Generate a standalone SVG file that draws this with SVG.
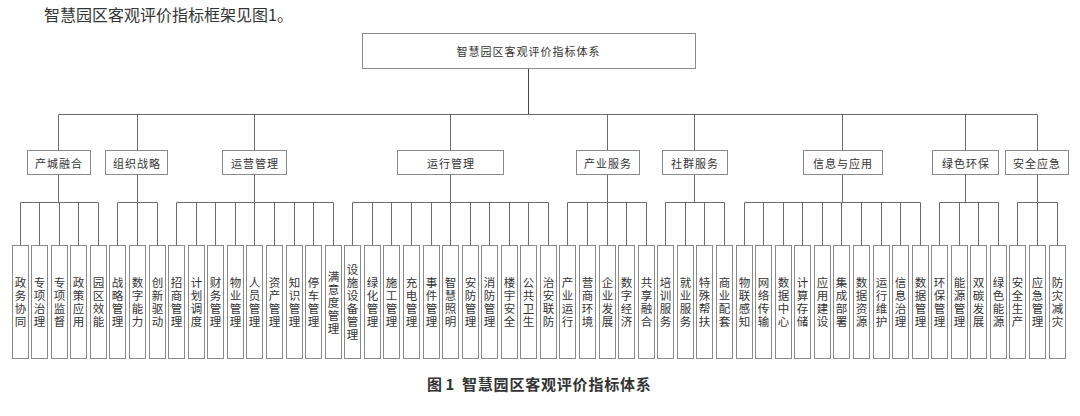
<svg xmlns="http://www.w3.org/2000/svg" width="1080" height="416" viewBox="0 0 1080 416">
<style>
.bx{fill:#fff;stroke:#8a8a8a;stroke-width:1}
.cn line{stroke:#6a6a6a;stroke-width:1}
.t{font-family:"Noto Sans CJK SC","Liberation Sans",sans-serif;fill:#333}
.l1{font-size:11px;text-anchor:middle;dominant-baseline:central;letter-spacing:1px}
.lf{font-size:11.5px;text-anchor:middle;dominant-baseline:central}
</style>
<rect width="1080" height="416" fill="#fff"/>
<text class="t" x="44" y="21" font-size="16" fill="#444">智慧园区客观评价指标框架见图1。</text>

<g id="connectors" class="cn">
<line x1="528.5" y1="68.5" x2="528.5" y2="114.5" style="stroke:#444"/>
<line x1="58.5" y1="114.5" x2="1037.5" y2="114.5"/>
<line x1="58.5" y1="114.5" x2="58.5" y2="150.5"/><line x1="137.5" y1="114.5" x2="137.5" y2="150.5"/><line x1="254.5" y1="114.5" x2="254.5" y2="150.5"/><line x1="450.5" y1="114.5" x2="450.5" y2="150.5"/><line x1="607.5" y1="114.5" x2="607.5" y2="150.5"/><line x1="694.5" y1="114.5" x2="694.5" y2="150.5"/><line x1="842.5" y1="114.5" x2="842.5" y2="150.5"/><line x1="965.5" y1="114.5" x2="965.5" y2="150.5"/><line x1="1037.5" y1="114.5" x2="1037.5" y2="150.5"/>
<line x1="58.5" y1="174.5" x2="58.5" y2="202.5"/><line x1="137.5" y1="174.5" x2="137.5" y2="202.5"/><line x1="254.5" y1="174.5" x2="254.5" y2="202.5"/><line x1="450.5" y1="174.5" x2="450.5" y2="202.5"/><line x1="607.5" y1="174.5" x2="607.5" y2="202.5"/><line x1="694.5" y1="174.5" x2="694.5" y2="202.5"/><line x1="842.5" y1="174.5" x2="842.5" y2="202.5"/><line x1="965.5" y1="174.5" x2="965.5" y2="202.5"/><line x1="1037.5" y1="174.5" x2="1037.5" y2="202.5"/>
<line x1="20.5" y1="202.5" x2="98.5" y2="202.5"/>
<line x1="117.5" y1="202.5" x2="157.5" y2="202.5"/>
<line x1="176.5" y1="202.5" x2="333.5" y2="202.5"/>
<line x1="352.5" y1="202.5" x2="548.5" y2="202.5"/>
<line x1="567.5" y1="202.5" x2="646.5" y2="202.5"/>
<line x1="665.5" y1="202.5" x2="724.5" y2="202.5"/>
<line x1="744.5" y1="202.5" x2="920.5" y2="202.5"/>
<line x1="939.5" y1="202.5" x2="998.5" y2="202.5"/>
<line x1="1017.5" y1="202.5" x2="1057.5" y2="202.5"/>
<line x1="20.5" y1="202.5" x2="20.5" y2="245.5"/><line x1="39.5" y1="202.5" x2="39.5" y2="245.5"/><line x1="59.5" y1="202.5" x2="59.5" y2="245.5"/><line x1="78.5" y1="202.5" x2="78.5" y2="245.5"/><line x1="98.5" y1="202.5" x2="98.5" y2="245.5"/>
<line x1="117.5" y1="202.5" x2="117.5" y2="245.5"/><line x1="137.5" y1="202.5" x2="137.5" y2="245.5"/><line x1="157.5" y1="202.5" x2="157.5" y2="245.5"/>
<line x1="176.5" y1="202.5" x2="176.5" y2="245.5"/><line x1="196.5" y1="202.5" x2="196.5" y2="245.5"/><line x1="215.5" y1="202.5" x2="215.5" y2="245.5"/><line x1="235.5" y1="202.5" x2="235.5" y2="245.5"/><line x1="254.5" y1="202.5" x2="254.5" y2="245.5"/><line x1="274.5" y1="202.5" x2="274.5" y2="245.5"/><line x1="294.5" y1="202.5" x2="294.5" y2="245.5"/><line x1="313.5" y1="202.5" x2="313.5" y2="245.5"/><line x1="333.5" y1="202.5" x2="333.5" y2="245.5"/>
<line x1="352.5" y1="202.5" x2="352.5" y2="245.5"/><line x1="372.5" y1="202.5" x2="372.5" y2="245.5"/><line x1="391.5" y1="202.5" x2="391.5" y2="245.5"/><line x1="411.5" y1="202.5" x2="411.5" y2="245.5"/><line x1="431.5" y1="202.5" x2="431.5" y2="245.5"/><line x1="450.5" y1="202.5" x2="450.5" y2="245.5"/><line x1="470.5" y1="202.5" x2="470.5" y2="245.5"/><line x1="489.5" y1="202.5" x2="489.5" y2="245.5"/><line x1="509.5" y1="202.5" x2="509.5" y2="245.5"/><line x1="528.5" y1="202.5" x2="528.5" y2="245.5"/><line x1="548.5" y1="202.5" x2="548.5" y2="245.5"/>
<line x1="567.5" y1="202.5" x2="567.5" y2="245.5"/><line x1="587.5" y1="202.5" x2="587.5" y2="245.5"/><line x1="607.5" y1="202.5" x2="607.5" y2="245.5"/><line x1="626.5" y1="202.5" x2="626.5" y2="245.5"/><line x1="646.5" y1="202.5" x2="646.5" y2="245.5"/>
<line x1="665.5" y1="202.5" x2="665.5" y2="245.5"/><line x1="685.5" y1="202.5" x2="685.5" y2="245.5"/><line x1="704.5" y1="202.5" x2="704.5" y2="245.5"/><line x1="724.5" y1="202.5" x2="724.5" y2="245.5"/>
<line x1="744.5" y1="202.5" x2="744.5" y2="245.5"/><line x1="763.5" y1="202.5" x2="763.5" y2="245.5"/><line x1="783.5" y1="202.5" x2="783.5" y2="245.5"/><line x1="802.5" y1="202.5" x2="802.5" y2="245.5"/><line x1="822.5" y1="202.5" x2="822.5" y2="245.5"/><line x1="841.5" y1="202.5" x2="841.5" y2="245.5"/><line x1="861.5" y1="202.5" x2="861.5" y2="245.5"/><line x1="881.5" y1="202.5" x2="881.5" y2="245.5"/><line x1="900.5" y1="202.5" x2="900.5" y2="245.5"/><line x1="920.5" y1="202.5" x2="920.5" y2="245.5"/>
<line x1="939.5" y1="202.5" x2="939.5" y2="245.5"/><line x1="959.5" y1="202.5" x2="959.5" y2="245.5"/><line x1="978.5" y1="202.5" x2="978.5" y2="245.5"/><line x1="998.5" y1="202.5" x2="998.5" y2="245.5"/>
<line x1="1017.5" y1="202.5" x2="1017.5" y2="245.5"/><line x1="1037.5" y1="202.5" x2="1037.5" y2="245.5"/><line x1="1057.5" y1="202.5" x2="1057.5" y2="245.5"/>
</g>

<g id="root"><rect class="bx" x="362.5" y="33.5" width="333" height="35"/><text class="t l1" x="528.5" y="51" letter-spacing="0.3">智慧园区客观评价指标体系</text></g>

<g id="g1"><rect class="bx" x="27.5" y="150.5" width="63" height="24"/><text class="t l1" x="59" y="162.5">产城融合</text></g>
<g id="g2"><rect class="bx" x="105.5" y="150.5" width="62" height="24"/><text class="t l1" x="137" y="162.5">组织战略</text></g>
<g id="g3"><rect class="bx" x="222.5" y="150.5" width="64" height="24"/><text class="t l1" x="255" y="162.5">运营管理</text></g>
<g id="g4"><rect class="bx" x="397.5" y="150.5" width="106" height="24"/><text class="t l1" x="451" y="162.5">运行管理</text></g>
<g id="g5"><rect class="bx" x="576.5" y="150.5" width="63" height="24"/><text class="t l1" x="608" y="162.5">产业服务</text></g>
<g id="g6"><rect class="bx" x="662.5" y="150.5" width="65" height="24"/><text class="t l1" x="695" y="162.5">社群服务</text></g>
<g id="g7"><rect class="bx" x="803.5" y="150.5" width="79" height="24"/><text class="t l1" x="843" y="162.5">信息与应用</text></g>
<g id="g8"><rect class="bx" x="932.5" y="150.5" width="66" height="24"/><text class="t l1" x="966" y="162.5">绿色环保</text></g>
<g id="g9"><rect class="bx" x="1005.5" y="150.5" width="63" height="24"/><text class="t l1" x="1037" y="162.5">安全应急</text></g>

<g id="leaves">
<g id="n0"><rect class="bx" x="12.5" y="245.5" width="16" height="113"/><text class="t lf" x="20.5 20.5 20.5 20.5" y="282 295 308 321">政务协同</text></g>
<g id="n1"><rect class="bx" x="31.5" y="245.5" width="16" height="113"/><text class="t lf" x="39.5 39.5 39.5 39.5" y="282 295 308 321">专项治理</text></g>
<g id="n2"><rect class="bx" x="51.5" y="245.5" width="16" height="113"/><text class="t lf" x="59.5 59.5 59.5 59.5" y="282 295 308 321">专项监督</text></g>
<g id="n3"><rect class="bx" x="70.5" y="245.5" width="16" height="113"/><text class="t lf" x="78.5 78.5 78.5 78.5" y="282 295 308 321">政策应用</text></g>
<g id="n4"><rect class="bx" x="90.5" y="245.5" width="16" height="113"/><text class="t lf" x="98.5 98.5 98.5 98.5" y="282 295 308 321">园区效能</text></g>
<g id="n5"><rect class="bx" x="109.5" y="245.5" width="16" height="113"/><text class="t lf" x="117.5 117.5 117.5 117.5" y="282 295 308 321">战略管理</text></g>
<g id="n6"><rect class="bx" x="129.5" y="245.5" width="16" height="113"/><text class="t lf" x="137.5 137.5 137.5 137.5" y="282 295 308 321">数字能力</text></g>
<g id="n7"><rect class="bx" x="149.5" y="245.5" width="16" height="113"/><text class="t lf" x="157.5 157.5 157.5 157.5" y="282 295 308 321">创新驱动</text></g>
<g id="n8"><rect class="bx" x="168.5" y="245.5" width="16" height="113"/><text class="t lf" x="176.5 176.5 176.5 176.5" y="282 295 308 321">招商管理</text></g>
<g id="n9"><rect class="bx" x="188.5" y="245.5" width="16" height="113"/><text class="t lf" x="196.5 196.5 196.5 196.5" y="282 295 308 321">计划调度</text></g>
<g id="n10"><rect class="bx" x="207.5" y="245.5" width="16" height="113"/><text class="t lf" x="215.5 215.5 215.5 215.5" y="282 295 308 321">财务管理</text></g>
<g id="n11"><rect class="bx" x="227.5" y="245.5" width="16" height="113"/><text class="t lf" x="235.5 235.5 235.5 235.5" y="282 295 308 321">物业管理</text></g>
<g id="n12"><rect class="bx" x="246.5" y="245.5" width="16" height="113"/><text class="t lf" x="254.5 254.5 254.5 254.5" y="282 295 308 321">人员管理</text></g>
<g id="n13"><rect class="bx" x="266.5" y="245.5" width="16" height="113"/><text class="t lf" x="274.5 274.5 274.5 274.5" y="282 295 308 321">资产管理</text></g>
<g id="n14"><rect class="bx" x="286.5" y="245.5" width="16" height="113"/><text class="t lf" x="294.5 294.5 294.5 294.5" y="282 295 308 321">知识管理</text></g>
<g id="n15"><rect class="bx" x="305.5" y="245.5" width="16" height="113"/><text class="t lf" x="313.5 313.5 313.5 313.5" y="282 295 308 321">停车管理</text></g>
<g id="n16"><rect class="bx" x="325.5" y="245.5" width="16" height="113"/><text class="t lf" x="333.5 333.5 333.5 333.5 333.5" y="275.5 288.5 301.5 314.5 327.5">满意度管理</text></g>
<g id="n17"><rect class="bx" x="344.5" y="245.5" width="16" height="113"/><text class="t lf" x="352.5 352.5 352.5 352.5 352.5 352.5" y="269 282 295 308 321 334">设施设备管理</text></g>
<g id="n18"><rect class="bx" x="364.5" y="245.5" width="16" height="113"/><text class="t lf" x="372.5 372.5 372.5 372.5" y="282 295 308 321">绿化管理</text></g>
<g id="n19"><rect class="bx" x="383.5" y="245.5" width="16" height="113"/><text class="t lf" x="391.5 391.5 391.5 391.5" y="282 295 308 321">施工管理</text></g>
<g id="n20"><rect class="bx" x="403.5" y="245.5" width="16" height="113"/><text class="t lf" x="411.5 411.5 411.5 411.5" y="282 295 308 321">充电管理</text></g>
<g id="n21"><rect class="bx" x="423.5" y="245.5" width="16" height="113"/><text class="t lf" x="431.5 431.5 431.5 431.5" y="282 295 308 321">事件管理</text></g>
<g id="n22"><rect class="bx" x="442.5" y="245.5" width="16" height="113"/><text class="t lf" x="450.5 450.5 450.5 450.5" y="282 295 308 321">智慧照明</text></g>
<g id="n23"><rect class="bx" x="462.5" y="245.5" width="16" height="113"/><text class="t lf" x="470.5 470.5 470.5 470.5" y="282 295 308 321">安防管理</text></g>
<g id="n24"><rect class="bx" x="481.5" y="245.5" width="16" height="113"/><text class="t lf" x="489.5 489.5 489.5 489.5" y="282 295 308 321">消防管理</text></g>
<g id="n25"><rect class="bx" x="501.5" y="245.5" width="16" height="113"/><text class="t lf" x="509.5 509.5 509.5 509.5" y="282 295 308 321">楼宇安全</text></g>
<g id="n26"><rect class="bx" x="520.5" y="245.5" width="16" height="113"/><text class="t lf" x="528.5 528.5 528.5 528.5" y="282 295 308 321">公共卫生</text></g>
<g id="n27"><rect class="bx" x="540.5" y="245.5" width="16" height="113"/><text class="t lf" x="548.5 548.5 548.5 548.5" y="282 295 308 321">治安联防</text></g>
<g id="n28"><rect class="bx" x="559.5" y="245.5" width="16" height="113"/><text class="t lf" x="567.5 567.5 567.5 567.5" y="282 295 308 321">产业运行</text></g>
<g id="n29"><rect class="bx" x="579.5" y="245.5" width="16" height="113"/><text class="t lf" x="587.5 587.5 587.5 587.5" y="282 295 308 321">营商环境</text></g>
<g id="n30"><rect class="bx" x="599.5" y="245.5" width="16" height="113"/><text class="t lf" x="607.5 607.5 607.5 607.5" y="282 295 308 321">企业发展</text></g>
<g id="n31"><rect class="bx" x="618.5" y="245.5" width="16" height="113"/><text class="t lf" x="626.5 626.5 626.5 626.5" y="282 295 308 321">数字经济</text></g>
<g id="n32"><rect class="bx" x="638.5" y="245.5" width="16" height="113"/><text class="t lf" x="646.5 646.5 646.5 646.5" y="282 295 308 321">共享融合</text></g>
<g id="n33"><rect class="bx" x="657.5" y="245.5" width="16" height="113"/><text class="t lf" x="665.5 665.5 665.5 665.5" y="282 295 308 321">培训服务</text></g>
<g id="n34"><rect class="bx" x="677.5" y="245.5" width="16" height="113"/><text class="t lf" x="685.5 685.5 685.5 685.5" y="282 295 308 321">就业服务</text></g>
<g id="n35"><rect class="bx" x="696.5" y="245.5" width="16" height="113"/><text class="t lf" x="704.5 704.5 704.5 704.5" y="282 295 308 321">特殊帮扶</text></g>
<g id="n36"><rect class="bx" x="716.5" y="245.5" width="16" height="113"/><text class="t lf" x="724.5 724.5 724.5 724.5" y="282 295 308 321">商业配套</text></g>
<g id="n37"><rect class="bx" x="736.5" y="245.5" width="16" height="113"/><text class="t lf" x="744.5 744.5 744.5 744.5" y="282 295 308 321">物联感知</text></g>
<g id="n38"><rect class="bx" x="755.5" y="245.5" width="16" height="113"/><text class="t lf" x="763.5 763.5 763.5 763.5" y="282 295 308 321">网络传输</text></g>
<g id="n39"><rect class="bx" x="775.5" y="245.5" width="16" height="113"/><text class="t lf" x="783.5 783.5 783.5 783.5" y="282 295 308 321">数据中心</text></g>
<g id="n40"><rect class="bx" x="794.5" y="245.5" width="16" height="113"/><text class="t lf" x="802.5 802.5 802.5 802.5" y="282 295 308 321">计算存储</text></g>
<g id="n41"><rect class="bx" x="814.5" y="245.5" width="16" height="113"/><text class="t lf" x="822.5 822.5 822.5 822.5" y="282 295 308 321">应用建设</text></g>
<g id="n42"><rect class="bx" x="833.5" y="245.5" width="16" height="113"/><text class="t lf" x="841.5 841.5 841.5 841.5" y="282 295 308 321">集成部署</text></g>
<g id="n43"><rect class="bx" x="853.5" y="245.5" width="16" height="113"/><text class="t lf" x="861.5 861.5 861.5 861.5" y="282 295 308 321">数据资源</text></g>
<g id="n44"><rect class="bx" x="873.5" y="245.5" width="16" height="113"/><text class="t lf" x="881.5 881.5 881.5 881.5" y="282 295 308 321">运行维护</text></g>
<g id="n45"><rect class="bx" x="892.5" y="245.5" width="16" height="113"/><text class="t lf" x="900.5 900.5 900.5 900.5" y="282 295 308 321">信息治理</text></g>
<g id="n46"><rect class="bx" x="912.5" y="245.5" width="16" height="113"/><text class="t lf" x="920.5 920.5 920.5 920.5" y="282 295 308 321">数据管理</text></g>
<g id="n47"><rect class="bx" x="931.5" y="245.5" width="16" height="113"/><text class="t lf" x="939.5 939.5 939.5 939.5" y="282 295 308 321">环保管理</text></g>
<g id="n48"><rect class="bx" x="951.5" y="245.5" width="16" height="113"/><text class="t lf" x="959.5 959.5 959.5 959.5" y="282 295 308 321">能源管理</text></g>
<g id="n49"><rect class="bx" x="970.5" y="245.5" width="16" height="113"/><text class="t lf" x="978.5 978.5 978.5 978.5" y="282 295 308 321">双碳发展</text></g>
<g id="n50"><rect class="bx" x="990.5" y="245.5" width="16" height="113"/><text class="t lf" x="998.5 998.5 998.5 998.5" y="282 295 308 321">绿色能源</text></g>
<g id="n51"><rect class="bx" x="1009.5" y="245.5" width="16" height="113"/><text class="t lf" x="1017.5 1017.5 1017.5 1017.5" y="282 295 308 321">安全生产</text></g>
<g id="n52"><rect class="bx" x="1029.5" y="245.5" width="16" height="113"/><text class="t lf" x="1037.5 1037.5 1037.5 1037.5" y="282 295 308 321">应急管理</text></g>
<g id="n53"><rect class="bx" x="1049.5" y="245.5" width="16" height="113"/><text class="t lf" x="1057.5 1057.5 1057.5 1057.5" y="282 295 308 321">防灾减灾</text></g>
</g>

<text class="t" x="427" y="389.5" font-size="15" font-weight="bold" fill="#222">图 1</text>
<text class="t" x="462" y="389.5" font-size="15" font-weight="bold" fill="#222" letter-spacing="0.8">智慧园区客观评价指标体系</text>
</svg>
